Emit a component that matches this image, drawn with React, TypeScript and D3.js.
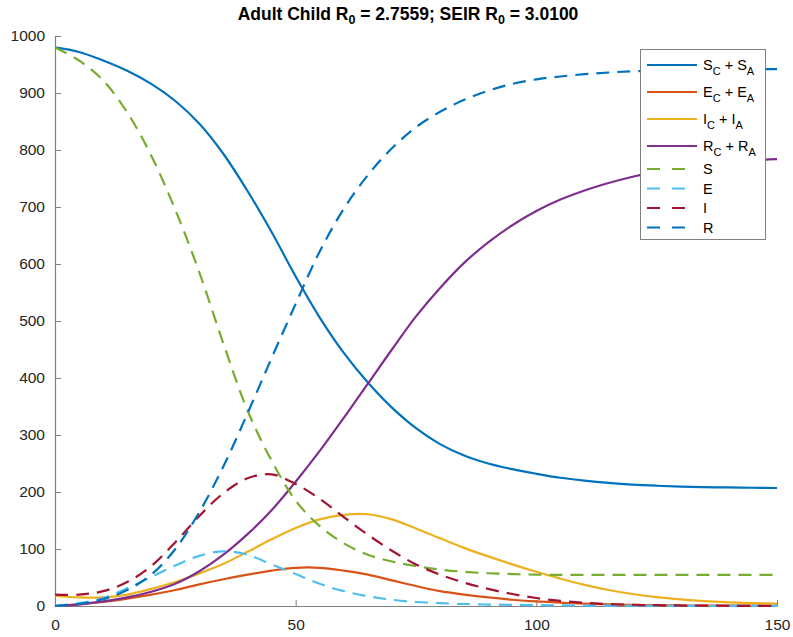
import React, { useEffect, useRef } from "react";
import * as d3 from "d3";

// days sampled every 5
const days = [0, 5, 10, 15, 20, 25, 30, 35, 40, 45, 50, 55, 60, 65, 70, 75, 80, 85, 90, 95, 100, 105, 110, 115, 120, 125, 130, 135, 140, 145, 150];

// adult/child model (summed compartments)
const sumS = [980, 972, 957, 939, 916, 886, 846, 793, 728, 656, 578, 506, 444, 392, 348, 312, 284, 264, 250, 240, 232, 225, 220, 216, 213, 211, 209.5, 208.5, 208, 207.5, 207];
const sumE = [0, 3, 7, 13, 20, 28, 38, 47, 55, 62, 67, 67, 62, 55, 45, 35, 26, 20, 15, 11, 8, 6, 4, 3, 2, 1.5, 1, 0.8, 0.6, 0.5, 0.4];
const sumI = [18, 15, 15, 20, 30, 42, 57, 74, 95, 117, 137, 152, 160, 161, 152, 136, 119, 102, 87, 73, 60, 48, 37, 28, 21, 15.5, 11.5, 8.5, 6.5, 5, 4];
const sumR = [0, 3, 8, 15, 25, 39, 61, 90, 126, 168, 218, 272, 330, 390, 450, 508, 558, 602, 638, 668, 693, 713, 729, 742, 753, 762, 769, 775, 779, 782, 784];

// plain SEIR
const seirS = [980, 957, 922, 866, 790, 695, 585, 460, 343, 255, 185, 140, 110, 90, 78, 70, 64, 60, 57.5, 56, 55, 54.5, 54.5, 54.5, 54.5, 54.5, 54.5, 54.5, 54.5, 54.5, 54.5];
const seirE = [0, 5, 14, 31, 51, 71, 88, 96, 90, 73, 56, 39, 26, 17, 11, 7, 5, 3.5, 2.5, 2, 1.5, 1, 0.8, 0.6, 0.5, 0.4, 0.3, 0.3, 0.2, 0.2, 0.2];
const seirI = [20, 20, 26, 42, 70, 112, 158, 198, 224, 231, 214, 188, 156, 125, 97, 73, 55, 41, 30, 21, 14, 9, 5.5, 3.5, 2.2, 1.4, 0.9, 0.6, 0.4, 0.3, 0.2];
const seirR = [0, 4, 12, 28, 55, 100, 165, 245, 338, 435, 530, 622, 697, 756, 803, 840, 867, 888, 904, 916, 924, 929, 933, 936, 938, 939.5, 940.5, 941, 941.5, 942, 942];

const yTicks = [0, 100, 200, 300, 400, 500, 600, 700, 800, 900, 1000];
const xTicks = [0, 50, 100, 150];

const series = [
  { key: "sumS", base: "S", values: sumS, color: "#0072BD", dashed: false },
  { key: "sumE", base: "E", values: sumE, color: "#D95319", dashed: false },
  { key: "sumI", base: "I", values: sumI, color: "#EDB120", dashed: false },
  { key: "sumR", base: "R", values: sumR, color: "#7E2F8E", dashed: false },
  { key: "S", base: "S", values: seirS, color: "#77AC30", dashed: true },
  { key: "E", base: "E", values: seirE, color: "#4DBEEE", dashed: true },
  { key: "I", base: "I", values: seirI, color: "#A2142F", dashed: true },
  { key: "R", base: "R", values: seirR, color: "#0072BD", dashed: true },
];

const W = 793, H = 637;
const FONT = "'Liberation Sans', Arial, Helvetica, sans-serif";

export default function App() {
  const ref = useRef<SVGSVGElement | null>(null);

  useEffect(() => {
    const svg = d3.select(ref.current);
    svg.selectAll("*").remove();

    const x = d3.scaleLinear().domain([0, 150]).range([55, 777]);
    const y = d3.scaleLinear().domain([0, 1000]).range([606, 36]);

    // axes (MATLAB-like: ticks inside, no box)
    const axisColor = "#262626";
    const gx = svg.append("g").attr("transform", `translate(0,${y(0)})`);
    gx.call(
      d3.axisBottom(x).tickValues(xTicks).tickFormat(d3.format("d")).tickSizeInner(-6).tickSizeOuter(0).tickPadding(10)
    );
    const gy = svg.append("g").attr("transform", `translate(${x(0)},0)`);
    gy.call(
      d3.axisLeft(y).tickValues(yTicks).tickFormat(d3.format("d")).tickSizeInner(-6).tickSizeOuter(0).tickPadding(10)
    );
    [gx, gy].forEach((g) => {
      g.select(".domain").attr("stroke", "#808080").attr("stroke-width", 1.2);
      g.selectAll(".tick line").attr("stroke", "#808080").attr("stroke-width", 1);
      g.selectAll(".tick text")
        .attr("fill", axisColor)
        .style("font-family", FONT)
        .style("font-size", "15.5px");
    });
    gx.selectAll(".tick text").attr("dy", "0.9em");

    // lines
    const line = d3
      .line<number>()
      .x((_, i) => x(days[i]))
      .y((d) => y(d))
      .curve(d3.curveCatmullRom.alpha(0.5));

    const plot = svg.append("g");
    series.forEach((s) => {
      plot
        .append("path")
        .datum(s.values)
        .attr("d", line)
        .attr("fill", "none")
        .attr("stroke", s.color)
        .attr("stroke-width", 2.2)
        .attr("stroke-dasharray", s.dashed ? "13,8" : null);
    });

    // title
    const title = svg
      .append("text")
      .attr("x", 408)
      .attr("y", 20)
      .attr("text-anchor", "middle")
      .attr("fill", "#000")
      .style("font-family", FONT)
      .style("font-size", "17.5px")
      .style("font-weight", "bold");
    title.append("tspan").text("Adult Child R");
    title.append("tspan").attr("dy", 4).style("font-size", "12.5px").text("0");
    title.append("tspan").attr("dy", -4).text(" = 2.7559; SEIR R");
    title.append("tspan").attr("dy", 4).style("font-size", "12.5px").text("0");
    title.append("tspan").attr("dy", -4).text(" = 3.0100");

    // legend
    const lg = svg.append("g");
    lg.append("rect")
      .attr("x", 640.5)
      .attr("y", 49.5)
      .attr("width", 125)
      .attr("height", 190)
      .attr("fill", "#fff")
      .attr("stroke", "#808080")
      .attr("stroke-width", 1);
    const rowY = [65, 92, 119, 146, 169, 188.5, 208, 227.5];
    series.forEach((s, i) => {
      const yy = rowY[i];
      lg.append("line")
        .attr("x1", 647)
        .attr("x2", 697)
        .attr("y1", yy)
        .attr("y2", yy)
        .attr("stroke", s.color)
        .attr("stroke-width", 2.2)
        .attr("stroke-dasharray", s.dashed ? "13,12" : null);
      const t = lg
        .append("text")
        .attr("x", 703)
        .attr("y", yy + 5)
        .attr("fill", "#000")
        .style("font-family", FONT)
        .style("font-size", "14.5px");
      if (s.dashed) {
        t.text(s.base);
      } else {
        t.append("tspan").text(s.base);
        t.append("tspan").attr("dy", 5).style("font-size", "11px").text("C");
        t.append("tspan").attr("dy", -5).text(" + " + s.base);
        t.append("tspan").attr("dy", 5).style("font-size", "11px").text("A");
      }
    });
  }, []);

  return (
    <svg
      ref={ref}
      width={W}
      height={H}
      style={{ position: "absolute", left: 0, top: 0, background: "#fff" }}
    />
  );
}
